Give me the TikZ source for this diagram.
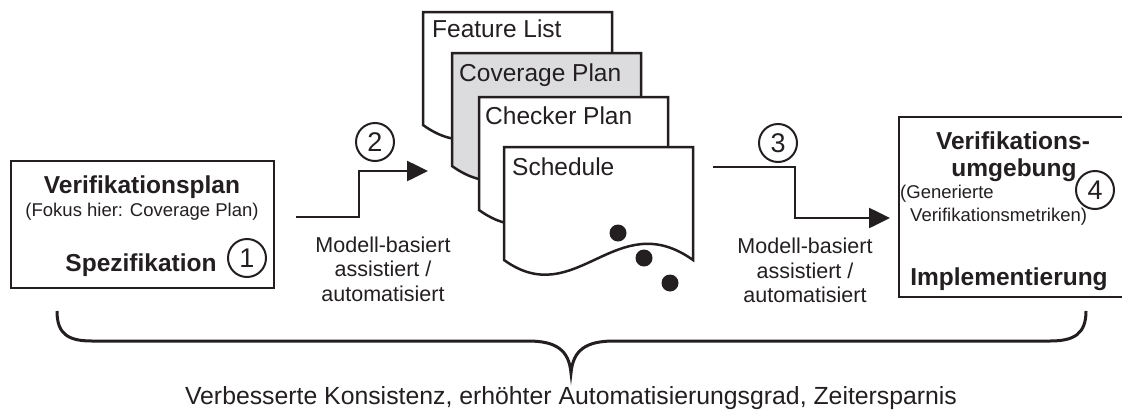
\documentclass[tikz,border=0pt]{standalone}
\usepackage{fontspec}
\setmainfont{Liberation Sans}
\usetikzlibrary{arrows.meta}

\definecolor{ink}{RGB}{35,31,32}
\definecolor{sheetgray}{RGB}{220,220,222}

\tikzset{
  frame/.style={draw=ink, line width=2.8pt},
  sheet/.style={draw=ink, line width=2.5pt, line join=miter},
  conn/.style={draw=ink, line width=2.6pt, -{Triangle[length=21pt,width=20pt]}},
  stepnum/.style={circle, draw=ink, line width=2pt, minimum size=38pt, inner sep=0pt,
    text=ink, font=\fontsize{27}{27}\selectfont},
  heading/.style={inner sep=0pt, anchor=base, text=ink, font=\fontsize{24.5}{24.5}\selectfont\bfseries},
  small/.style={inner sep=0pt, text=ink, font=\fontsize{18.5}{18.5}\selectfont},
  sheettext/.style={inner sep=0pt, anchor=base west, text=ink, font=\fontsize{24.5}{24.5}\selectfont},
  note/.style={inner sep=0pt, anchor=north, align=center, text=ink,
    font=\fontsize{21.5}{24.5}\selectfont},
  dot/.style={fill=ink}
}

% document sheet with a wavy lower edge: left x, top y, fill colour
\newcommand{\docsheet}[3]{%
  \draw[sheet, fill=#3] (#1,#2+113) -- (#1,#2) -- (#1+189,#2) -- (#1+189,#2+113)
    .. controls (#1+112,#2+58) and (#1+72,#2+165) .. (#1,#2+113) -- cycle;}

\begin{document}
\begin{tikzpicture}[x=1pt, y=-1pt]
  \useasboundingbox (0,0) rectangle (1122,410);

  % specification box
  \draw[frame] (11,161) rectangle (274,288);
  \node[heading] (vplan) at (142,193) {Verifikationsplan};
  \node[small, anchor=base] (fokus) at (142,216) {(Fokus hier: Coverage Plan)};
  \node[heading] (spez) at (141,271) {Spezifikation};
  \node[stepnum] (c1) at (247,258) {1};

  % stacked plan documents
  \docsheet{423}{12}{white}
  \node[sheettext] (flist) at (432,37) {Feature List};
  \docsheet{452}{53}{sheetgray}
  \node[sheettext] (cplan) at (459,81) {Coverage Plan};
  \docsheet{479}{97}{white}
  \node[sheettext] (chplan) at (485,124) {Checker Plan};
  \docsheet{504}{147}{white}
  \node[sheettext] (sched) at (512,175) {Schedule};
  \fill[dot] (618,233) circle (8.5);
  \fill[dot] (644,258) circle (8.5);
  \fill[dot] (670,283) circle (8.5);

  % implementation box
  \draw[frame] (899,117) -- (1126,117) -- (1126,297) -- (899,297) -- cycle;
  \node[heading] (venv1) at (1013,149) {Verifikations-};
  \node[heading] (venv2) at (1014,176) {umgebung};
  \node[small, anchor=base west] (gen1) at (900,198) {(Generierte};
  \node[small, anchor=base west] (gen2) at (910,221) {Verifikationsmetriken)};
  \node[heading] (impl) at (1009,285) {Implementierung};
  \node[stepnum] (c4) at (1095,190) {4};

  % transformation steps
  \coordinate (s2a) at (296,217);
  \coordinate (s2b) at (359,217);
  \coordinate (s2c) at (359,171);
  \coordinate (s2d) at (428,171);
  \draw[conn] (s2a) -- (s2b) -- (s2c) -- (s2d);
  \node[stepnum] (c2) at (375,142) {2};
  \node[note] (m2) at (383,236.5) {Modell-basiert\\assistiert /\\automatisiert};

  \coordinate (s3a) at (713,167);
  \coordinate (s3b) at (795,167);
  \coordinate (s3c) at (795,218);
  \coordinate (s3d) at (890,218);
  \draw[conn] (s3a) -- (s3b) -- (s3c) -- (s3d);
  \node[stepnum] (c3) at (778,143) {3};
  \node[note] (m3) at (805,238) {Modell-basiert\\assistiert /\\automatisiert};

  % overall benefit
  \coordinate (bl) at (57,311);
  \coordinate (btip) at (571,373);
  \coordinate (br) at (1086,311);
  \draw[ink, line width=3pt]
    (bl) .. controls (57,334) and (68,341) .. (92,341) -- (528,341)
    .. controls (556,341) and (569,350) .. (btip)
    .. controls (573,350) and (586,341) .. (614,341) -- (1050,341)
    .. controls (1074,341) and (1086,334) .. (br);
  \node[inner sep=0pt, anchor=base, text=ink, font=\fontsize{24.8}{24.8}\selectfont] (benefit)
    at (571,404) {Verbesserte Konsistenz, erhöhter Automatisierungsgrad, Zeitersparnis};
\end{tikzpicture}
\end{document}
